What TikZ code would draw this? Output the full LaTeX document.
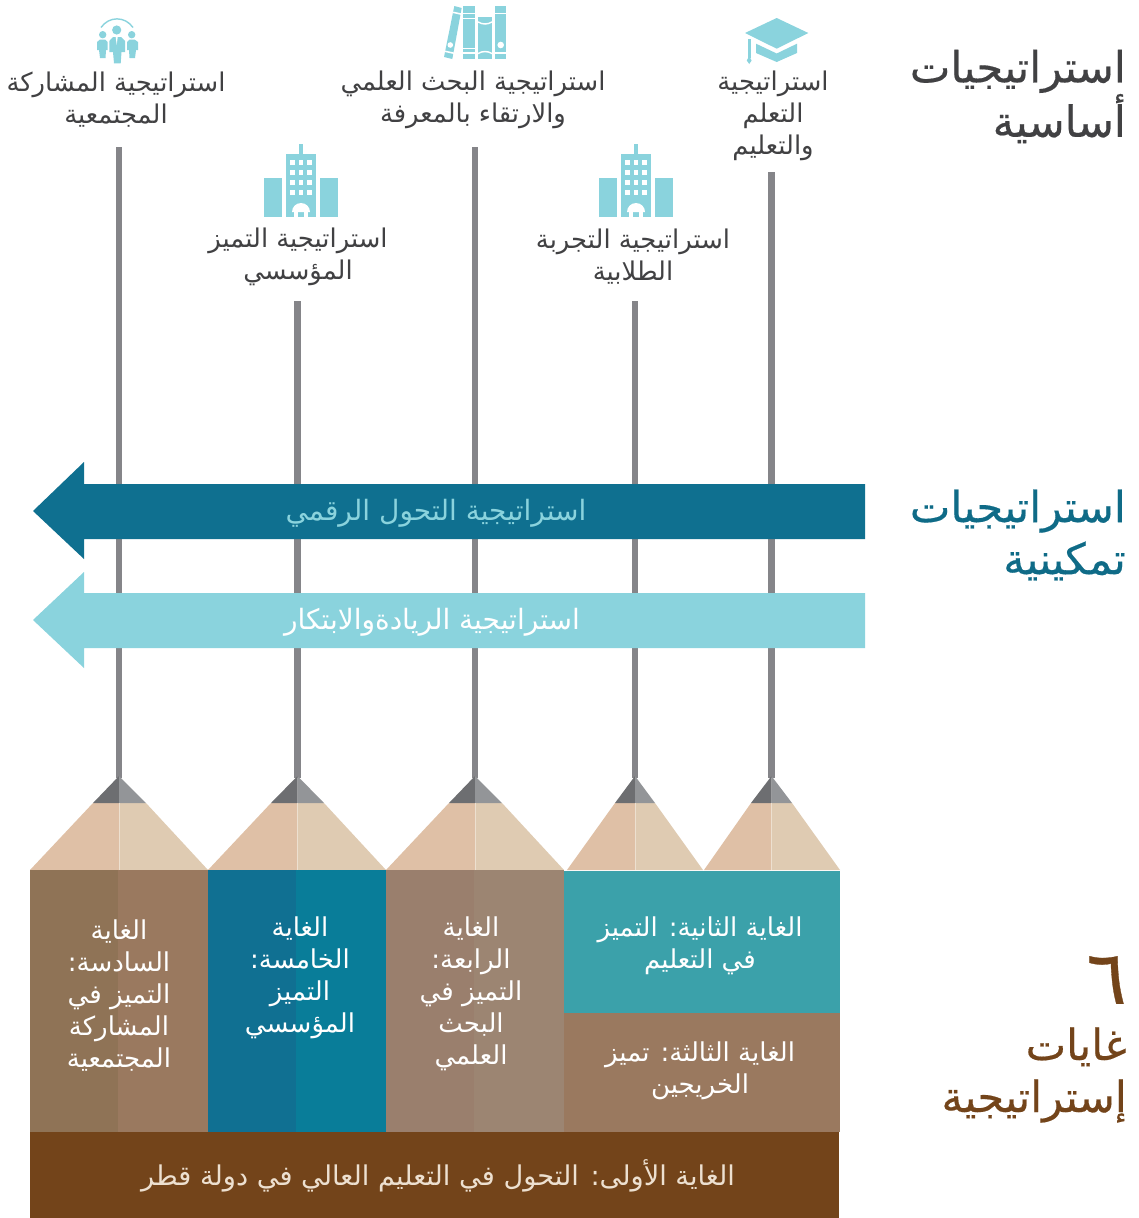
\documentclass[tikz,border=0pt]{standalone}
\usepackage{fontspec}
\TeXXeTstate=1
\newfontfamily\arabicfont[Script=Arabic]{DejaVu Sans}
\newfontfamily\arabicheavy[Script=Arabic,FakeBold=0.4]{DejaVu Sans}
\newcommand{\ar}[1]{\beginR #1\endR}
\definecolor{lightc}{HTML}{8AD3DD}
\definecolor{darkc}{HTML}{0F7090}
\definecolor{pgray}{HTML}{858589}
\definecolor{txtc}{HTML}{414143}
\definecolor{brownc}{HTML}{73441A}
\definecolor{tealtitle}{HTML}{0F6B87}
\definecolor{woodL}{HTML}{DFC0A6}
\definecolor{woodR}{HTML}{DFCBB2}
\definecolor{leadL}{HTML}{6D6E71}
\definecolor{leadR}{HTML}{939598}
\definecolor{seam}{HTML}{EDE0D0}
\definecolor{bodyA}{HTML}{8F7356}
\definecolor{bodyB}{HTML}{9A795F}
\definecolor{bodyC}{HTML}{107092}
\definecolor{bodyD}{HTML}{097D99}
\definecolor{bodyE}{HTML}{9A7F6D}
\definecolor{bodyF}{HTML}{9C8572}
\definecolor{bodyG}{HTML}{3BA1AA}
\tikzset{
  x=1pt,y=-1pt,
  label text/.style={font=\arabicfont\fontsize{25.8}{32}\selectfont,text=txtc,align=center,inner sep=0pt},
  goal text/.style={font=\arabicfont\fontsize{26}{32}\selectfont,text=white,align=center,inner sep=0pt},
  title text/.style={font=\arabicheavy\fontsize{43}{52}\selectfont,align=right,inner sep=0pt,anchor=east},
  arrow text/.style={font=\arabicfont\fontsize{28}{32}\selectfont,inner sep=0pt},
  stem/.style={draw=pgray,line width=6.5pt},
  icon/.style={fill=lightc,draw=none},
  iconcut/.style={fill=white,draw=none}
}
\begin{document}
\begin{tikzpicture}
\useasboundingbox (0,0) rectangle (1138,1218);
% stems
\coordinate (s1t) at (119,147); \coordinate (s1b) at (119,778);
\coordinate (s2t) at (297.5,301); \coordinate (s2b) at (297.5,778);
\coordinate (s3t) at (475,147); \coordinate (s3b) at (475,778);
\coordinate (s4t) at (635,301); \coordinate (s4b) at (635,778);
\coordinate (s5t) at (771.5,172); \coordinate (s5b) at (771.5,778);
\foreach \s in {1,...,5} \draw[stem] (s\s t) -- (s\s b);
% arrows
\fill[darkc] (33,511) -- (84,462) -- (84,484) -- (865,484) -- (865,539) -- (84,539) -- (84,559) -- cycle;
\fill[lightc] (33,620) -- (84,572) -- (84,593) -- (865,593) -- (865,648) -- (84,648) -- (84,668) -- cycle;
\node[arrow text,text=lightc] (a1) at (436,513) {\ar{استراتيجية التحول الرقمي}};
\node[arrow text,text=white] (a2) at (432,622) {\ar{استراتيجية الريادةوالابتكار}};
% pencil tips
\foreach \l/\r/\t/\ll/\lr in {30/208/119/93/146, 208/386/297.5/271/324, 386/564/475/449/502, 567/703/635/615/655, 704/840/771.5/751/792}{
  \fill[woodL] (\l,870) -- (\ll,803) -- (\t,803) -- (\t,870) -- cycle;
  \fill[woodR] (\r,870) -- (\lr,803) -- (\t,803) -- (\t,870) -- cycle;
  \fill[leadL] (\ll,803) -- (\t,776) -- (\t,803) -- cycle;
  \fill[leadR] (\lr,803) -- (\t,776) -- (\t,803) -- cycle;
  \draw[seam,line width=.8pt] (\t,803) -- (\t,870);
}
% pencil bodies
\fill[bodyA] (30,870) rectangle (118,1132);
\fill[bodyB] (118,870) rectangle (208,1132);
\fill[bodyC] (208,870) rectangle (296,1132);
\fill[bodyD] (296,870) rectangle (386,1132);
\fill[bodyE] (386,870) rectangle (474,1132);
\fill[bodyF] (474,870) rectangle (564,1132);
\fill[bodyG] (564,871) rectangle (840,1013);
\fill[bodyB] (564,1013) rectangle (840,1132);
\fill[brownc] (30,1132) rectangle (839,1218);
% goal texts
\node[goal text] (g6) at (119,996) {\ar{الغاية}\\\ar{السادسة:}\\\ar{التميز في}\\\ar{المشاركة}\\\ar{المجتمعية}};
\node[goal text] (g5) at (300,978) {\ar{الغاية}\\\ar{الخامسة:}\\\ar{التميز}\\\ar{المؤسسي}};
\node[goal text] (g4) at (471,994) {\ar{الغاية}\\\ar{الرابعة:}\\\ar{التميز في}\\\ar{البحث}\\\ar{العلمي}};
\node[goal text] (g2) at (700,946) {\ar{الغاية الثانية: التميز}\\\ar{في التعليم}};
\node[goal text] (g3) at (700,1071) {\ar{الغاية الثالثة: تميز}\\\ar{الخريجين}};
\node[goal text,text=seam,font=\arabicfont\fontsize{27.2}{32}\selectfont] (g1) at (438,1176) {\ar{الغاية الأولى: التحول في التعليم العالي في دولة قطر}};
% strategy labels
\node[label text] (l1) at (116,100) {\ar{استراتيجية المشاركة}\\\ar{المجتمعية}};
\node[label text] (l2) at (473,100) {\ar{استراتيجية البحث العلمي}\\\ar{والارتقاء بالمعرفة}};
\node[label text] (l3) at (773,116) {\ar{استراتيجية}\\\ar{التعلم}\\\ar{والتعليم}};
\node[label text] (l4) at (298,257) {\ar{استراتيجية التميز}\\\ar{المؤسسي}};
\node[label text] (l5) at (633,257) {\ar{استراتيجية التجربة}\\\ar{الطلابية}};
% titles
\node[title text,text=txtc] (t1) at (1126,96.5) {\ar{استراتيجيات}\\\ar{أساسية}};
\node[title text,text=tealtitle] (t2) at (1126,535) {\ar{استراتيجيات}\\\ar{تمكينية}};
\node[title text,text=brownc] (t3) at (1127,1075) {\ar{غايات}\\\ar{إستراتيجية}};
\node[font=\arabicheavy\fontsize{75}{80}\selectfont,text=brownc,inner sep=0pt,anchor=east] (t4) at (1127,980) {\ar{٦}};
% buildings
\foreach \c in {301,636}{
  \begin{scope}[shift={(\c,0)}]
    \fill[icon] (-37,178) rectangle (-19,217);
    \fill[icon] (19,178) rectangle (37,217);
    \fill[icon] (-15,154) rectangle (15,217);
    \fill[icon] (-2.3,144) rectangle (2.3,154);
    \foreach \wx in {-8.5,0,8.5} \foreach \wy in {162.6,172.5,182.5,192.6}
      \fill[iconcut] (\wx-2.4,\wy-2.7) rectangle (\wx+2.4,\wy+2.7);
    \fill[iconcut] (-9,212) arc[start angle=180,end angle=360,radius=9] -- cycle;
    \fill[iconcut] (-7,212) rectangle (-3,217);
    \fill[iconcut] (3,212) rectangle (7,217);
  \end{scope}
}
% cap
\fill[icon] (745,33) -- (776.7,18) -- (808.3,33) -- (776.7,48.7) -- cycle;
\fill[icon] (756,43.7) -- (776.7,53.5) -- (797,43.7) -- (797,53) -- (776.7,62) -- (756,53) -- cycle;
\fill[icon] (747.9,38.7) rectangle (750.5,58);
\fill[icon] (749.2,56) -- (751.6,60.5) -- (749.2,64) -- (746.8,60.5) -- cycle;
% books
\fill[icon] (454.3,6) -- (461.7,8) -- (452.3,59) -- (444,57) -- cycle;
\fill[icon] (463.3,6) rectangle (475,59);
\fill[icon] (477.7,17.3) rectangle (492.3,59);
\fill[icon] (495,6) rectangle (506,59);
\fill[iconcut] (453,11.5) -- (462,13.5) -- (461.6,15) -- (452.6,13) -- cycle;
\fill[iconcut] (445,50.5) -- (454,52.5) -- (453.7,54) -- (444.7,52) -- cycle;
\fill[iconcut] (463.3,12.5) rectangle (475,14);
\fill[iconcut] (463.3,17.5) rectangle (475,19);
\fill[iconcut] (463.3,47.5) rectangle (475,49);
\fill[iconcut] (463.3,52) rectangle (475,53.5);
\fill[iconcut] (477.7,21) .. controls (482,24) and (488,24) .. (492.3,21) -- (492.3,22.5) .. controls (488,25.5) and (482,25.5) .. (477.7,22.5) -- cycle;
\fill[iconcut] (477.7,53) .. controls (482,50) and (488,50) .. (492.3,53) -- (492.3,54.5) .. controls (488,51.5) and (482,51.5) .. (477.7,54.5) -- cycle;
\fill[iconcut] (495,12.5) rectangle (506,14);
\fill[iconcut] (495,52) rectangle (506,53.5);
\fill[iconcut] (500.7,45) circle[radius=3.3];
\fill[iconcut] (450.3,45) circle[radius=2.8];
% people
\draw[lightc,line width=1.4pt] (101,27.5) .. controls (109,16) and (125,16) .. (133,27.5);
\fill[icon] (116.7,30) circle[radius=4.6];
\fill[icon] (102.7,34.7) circle[radius=3.7];
\fill[icon] (131.7,34.7) circle[radius=3.7];
\fill[icon] (109.3,41) -- (113,37) -- (121,37) -- (125,41) -- (125,52) -- (121.5,52) -- (120.7,63.3) -- (114,63.3) -- (113,52) -- (109.3,52) -- cycle;
\fill[icon] (97,42) -- (100,39.5) -- (105,39.5) -- (107.5,42) -- (107.5,50) -- (106,50) -- (105.5,58) -- (100,58) -- (99,50) -- (97,50) -- cycle;
\fill[icon] (127,42) -- (129.5,39.5) -- (134.5,39.5) -- (138,42) -- (138,50) -- (136,50) -- (135,58) -- (129.5,58) -- (129,50) -- (127,50) -- cycle;
\fill[iconcut] (115.7,37) -- (117.7,37) -- (116.7,45) -- cycle;
\end{tikzpicture}
\end{document}
